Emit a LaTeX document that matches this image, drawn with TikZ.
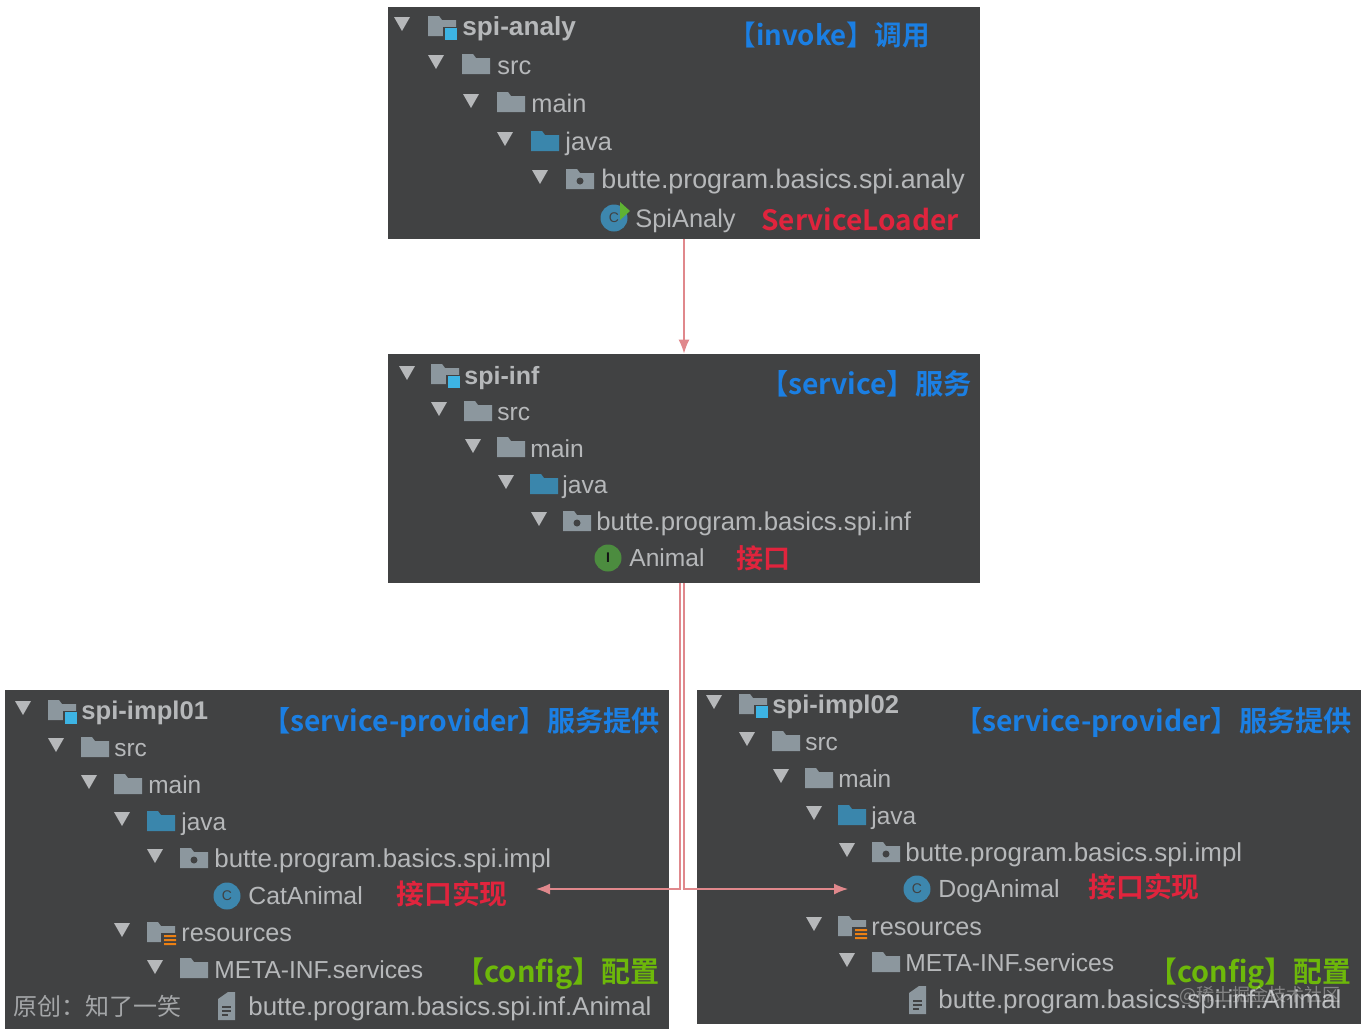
\documentclass[tikz,border=0pt]{standalone}
\usepackage{fontspec}
\usetikzlibrary{arrows.meta}
\setmainfont{Liberation Sans}
\newfontfamily\cjk{Noto Sans CJK SC}[BoldFont={* Bold}]
\definecolor{panelgrey}{HTML}{414243}
\definecolor{treegrey}{HTML}{B6B8BA}
\definecolor{foldergrey}{HTML}{8C979E}
\definecolor{javablue}{HTML}{3A86AC}
\definecolor{iconblue}{HTML}{3DB4E4}
\definecolor{classblue}{HTML}{3D87AE}
\definecolor{ifacegreen}{HTML}{4C8C3F}
\definecolor{runcolor}{HTML}{5FB233}
\definecolor{tagblue}{HTML}{1B7FE3}
\definecolor{tagred}{HTML}{E0243D}
\definecolor{taggreen}{HTML}{6DB80A}
\definecolor{linkred}{HTML}{E0888C}
\tikzset{
  panel/.style={fill=panelgrey, inner sep=0pt},
  treetext/.style={anchor=west, inner sep=0pt, text=treegrey, text height=10pt, text depth=2pt, font=\fontsize{#1}{15}\selectfont},
  treeroot/.style={anchor=west, inner sep=0pt, text=treegrey, text height=10pt, text depth=2pt, font=\fontsize{#1}{15}\selectfont\bfseries},
  tag/.style={anchor=west, inner sep=0pt, text height=12.5pt, text depth=3pt, font=\cjk\bfseries\fontsize{#1}{16}\selectfont},
  classico/.style={circle, fill=classblue, minimum size=13.5pt, inner sep=0pt, text=panelgrey, font=\fontsize{7}{8}\selectfont},
  link/.style={draw=linkred, line width=0.7pt},
  linkend/.style={-{Latex[length=7pt,width=5.5pt]}}
}
\newcommand{\foldtri}[2]{\fill[treegrey] (#1-8,#2-7) -- (#1+8,#2-7) -- (#1,#2+7) -- cycle;}
\newcommand{\foldico}[3]{\fill[#3] (#1,#2-10) -- (#1+11,#2-10) -- (#1+14,#2-6) -- (#1+28,#2-6) -- (#1+28,#2+10) -- (#1,#2+10) -- cycle;}
\newcommand{\packico}[2]{\foldico{#1}{#2}{foldergrey}\fill[panelgrey] (#1+14,#2+2) circle (3.5);}
\newcommand{\projico}[2]{\foldico{#1}{#2}{foldergrey}\fill[panelgrey] (#1+15,#2+1) rectangle (#1+30,#2+15);\fill[iconblue] (#1+17,#2+2) rectangle (#1+29,#2+14);}
\newcommand{\resico}[2]{\foldico{#1}{#2}{foldergrey}\fill[panelgrey] (#1+14,#2+1) rectangle (#1+30,#2+15);\fill[orange!70!brown] (#1+17,#2+3) rectangle (#1+29,#2+5) (#1+17,#2+7) rectangle (#1+29,#2+9) (#1+17,#2+11) rectangle (#1+29,#2+13);}
\newcommand{\fileico}[2]{\fill[foldergrey] (#1,#2-7) -- (#1+10,#2-14) -- (#1+17,#2-14) -- (#1+17,#2+14) -- (#1,#2+14) -- cycle;\draw[panelgrey, line width=0.8pt] (#1+4,#2+1) -- (#1+13,#2+1) (#1+4,#2+5) -- (#1+13,#2+5) (#1+4,#2+9) -- (#1+10,#2+9);}
\begin{document}
\begin{tikzpicture}[x=0.5pt,y=-0.5pt]
    \useasboundingbox (0,0) rectangle (1368,1034);
    % panels
    \node[panel, minimum width=296pt, minimum height=116pt] (analy) at (684,123) {};
    \node[panel, minimum width=296pt, minimum height=114.5pt] (inf) at (684,468.5) {};
    \node[panel, minimum width=332pt, minimum height=169.5pt] (implone) at (337,859.5) {};
    \node[panel, minimum width=332pt, minimum height=167pt] (impltwo) at (1029,857) {};
    % spi-analy
    \foreach \x/\y in {402/24,436/62,471/101,505/139,540/177} {\foldtri{\x}{\y}}
    \projico{428}{26}
    \foldico{462}{64}{foldergrey}
    \foldico{497}{102}{foldergrey}
    \foldico{531}{141}{javablue}
    \packico{566}{179}
    \node[treeroot=13.1] (analyroot) at (462,27) {spi-analy};
    \node[treetext=12.7] (analysrc) at (497,66) {src};
    \node[treetext=12.7] (analymain) at (531,104) {main};
    \node[treetext=12.7] (analyjava) at (565,142) {java};
    \node[treetext=13.4] (analypack) at (601,180) {butte.program.basics.spi.analy};
    \node[classico] (analyclass) at (614,218) {C};
    \fill[runcolor] (620,202) -- (630,211) -- (620,220) -- cycle;
    \node[treetext=12.7] (analyfile) at (635,219) {SpiAnaly};
    \node[tag=13.8, text=tagblue] (invoketag) at (728,36) {【invoke】调用};
    \node[tag=14, text=tagred] (loadertag) at (761,221) {ServiceLoader};
    % spi-inf
    \foreach \x/\y in {407/373,439/409,473/446,506/482,539/519} {\foldtri{\x}{\y}}
    \projico{431}{374}
    \foldico{464}{411}{foldergrey}
    \foldico{497}{447}{foldergrey}
    \foldico{530}{484}{javablue}
    \packico{563}{521}
    \node[treeroot=12.5] (infroot) at (464,376) {spi-inf};
    \node[treetext=12.3] (infsrc) at (497,412) {src};
    \node[treetext=12.3] (infmain) at (530,449) {main};
    \node[treetext=12.3] (infjava) at (562,485) {java};
    \node[treetext=12.87] (infpack) at (596,522) {butte.program.basics.spi.inf};
    \node[classico, fill=ifacegreen, text=black!70!panelgrey, font=\bfseries\fontsize{7}{8}\selectfont] (infclass) at (608,558) {I};
    \node[treetext=12.3] (inffile) at (629,558) {Animal};
    \node[tag=14.1, text=tagblue] (servicetag) at (760,385) {【service】服务};
    \node[tag=13.5, text=tagred] (infacetag) at (736,559) {接口};
    % spi-impl01
    \foreach \x/\y in {23/708,56/745,89/782,122/819,155/856,122/930,155/967} {\foldtri{\x}{\y}}
    \projico{48}{710}
    \foldico{81}{747}{foldergrey}
    \foldico{114}{784}{foldergrey}
    \foldico{147}{821}{javablue}
    \packico{180}{858}
    \resico{147}{932}
    \foldico{180}{968}{foldergrey}
    \fileico{218}{1006}
    \node[treeroot=12.8] (oneroot) at (81,711) {spi-impl01};
    \node[treetext=12.2] (onesrc) at (114,748) {src};
    \node[treetext=12.2] (onemain) at (148,785) {main};
    \node[treetext=12.2] (onejava) at (181,822) {java};
    \node[treetext=12.95] (onepack) at (214,859) {butte.program.basics.spi.impl};
    \node[classico] (oneclass) at (227,896) {C};
    \node[treetext=12.4] (onefile) at (248,896) {CatAnimal};
    \node[treetext=12.6] (oneres) at (181,933) {resources};
    \node[treetext=12.3] (onemeta) at (214,970) {META-INF.services};
    \node[treetext=12.95] (oneconf) at (248,1007) {butte.program.basics.spi.inf.Animal};
    \node[tag=14.1, text=tagblue] (oneprovtag) at (262,722) {【service-provider】服务提供};
    \node[tag=13.9, text=tagred] (oneimpltag) at (396,895) {接口实现};
    \node[tag=14.5, text=taggreen] (oneconftag) at (455,973) {【config】配置};
    \node[anchor=west, inner sep=0pt, text=treegrey!85!panelgrey, font=\cjk\fontsize{12}{14}\selectfont] (onemark) at (13,1006) {原创：知了一笑};
    % spi-impl02
    \foreach \x/\y in {714/702,747/739,781/776,814/813,847/850,814/924,847/960} {\foldtri{\x}{\y}}
    \projico{739}{704}
    \foldico{772}{741}{foldergrey}
    \foldico{805}{778}{foldergrey}
    \foldico{838}{815}{javablue}
    \packico{872}{852}
    \resico{838}{926}
    \foldico{872}{962}{foldergrey}
    \fileico{909}{1000}
    \node[treeroot=12.8] (tworoot) at (772,705) {spi-impl02};
    \node[treetext=12.2] (twosrc) at (805,742) {src};
    \node[treetext=12.2] (twomain) at (838,779) {main};
    \node[treetext=12.2] (twojava) at (871,816) {java};
    \node[treetext=12.95] (twopack) at (905,853) {butte.program.basics.spi.impl};
    \node[classico] (twoclass) at (917,889) {C};
    \node[treetext=12.4] (twofile) at (938,889) {DogAnimal};
    \node[treetext=12.6] (twores) at (871,927) {resources};
    \node[treetext=12.3] (twometa) at (905,963) {META-INF.services};
    \node[treetext=12.95] (twoconf) at (938,1000) {butte.program.basics.spi.inf.Animal};
    \node[tag=14.1, text=tagblue] (twoprovtag) at (954,722) {【service-provider】服务提供};
    \node[tag=13.9, text=tagred] (twoimpltag) at (1088,888) {接口实现};
    \node[tag=14.4, text=taggreen] (twoconftag) at (1148,973) {【config】配置};
    \node[anchor=west, inner sep=0pt, text=white, opacity=0.35, font=\cjk\fontsize{9}{11}\selectfont] (twomark) at (1179,995) {@稀土掘金技术社区};
    % connectors
    \coordinate (catend) at (536,889);
    \coordinate (dogend) at (848,889);
    \draw[link, linkend] (analy.south) -- (inf.north);
    \draw[link, linkend] ([xshift=-2pt]inf.south) |- (catend);
    \draw[link, linkend] (inf.south) |- (dogend);
\end{tikzpicture}
\end{document}
